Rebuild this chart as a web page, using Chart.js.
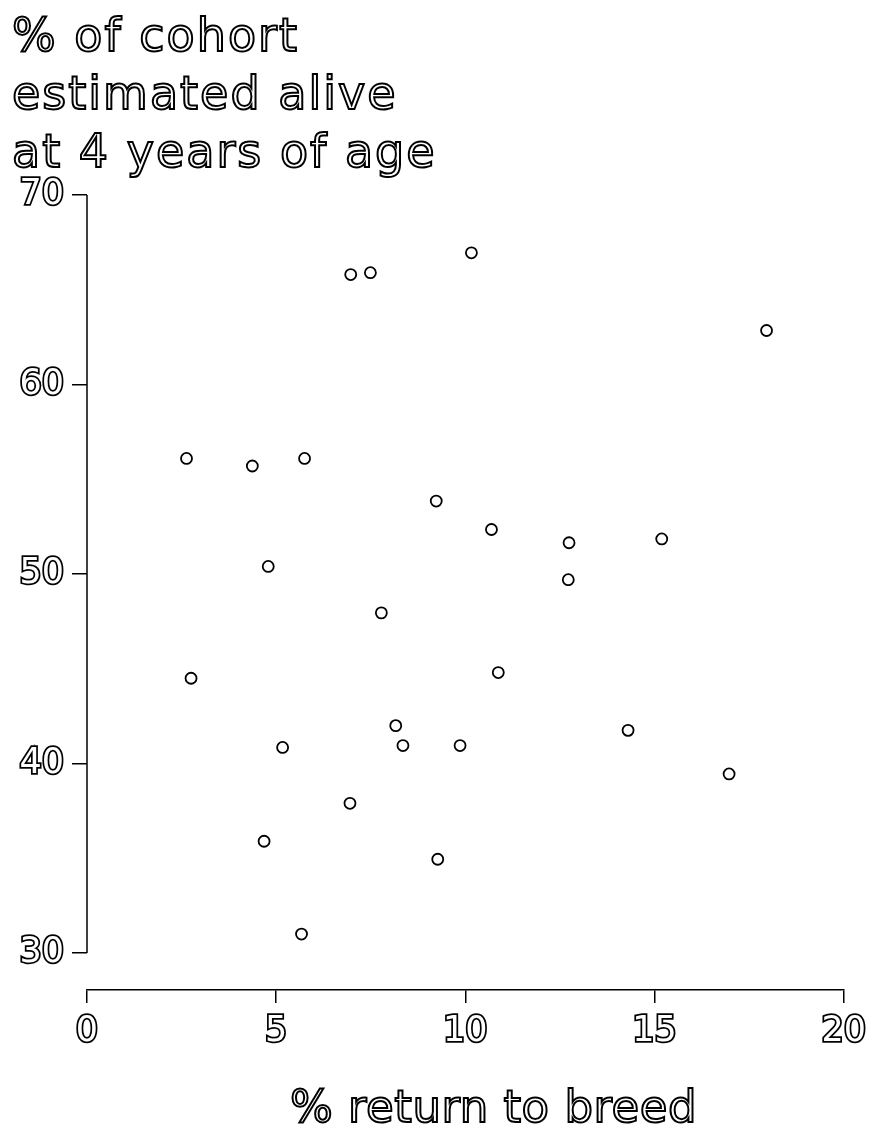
<!DOCTYPE html>
<html>
<head>
<meta charset="utf-8">
<script src="https://cdn.jsdelivr.net/npm/chart.js@4/dist/chart.umd.min.js"></script>
<style>
  html, body { margin: 0; padding: 0; background: #fff; }
  #wrap { position: relative; width: 874px; height: 1135px; }
  .hollow {
    position: absolute;
    font-family: "DejaVu Sans", sans-serif;
    color: #fff;
    -webkit-text-stroke: 2px #000;
    white-space: nowrap;
  }
  #ytitle { left: 12px; top: 6px; font-size: 46px; line-height: 58px; letter-spacing: 2px; }
  #xtitle { left: 290px; top: 1084px; font-size: 45px; line-height: 45px; letter-spacing: 0.5px; }
</style>
</head>
<body>
<div id="wrap">
  <canvas id="chart" width="874" height="1135"></canvas>
  <div id="ytitle" class="hollow">% of cohort<br>estimated alive<br>at 4 years of age</div>
  <div id="xtitle" class="hollow">% return to breed</div>
</div>
<script>
// % return to breed
const returnPct = [2.63, 2.75, 4.37, 4.79, 4.68, 5.17, 5.67, 5.75, 6.97, 7.49, 6.95, 7.78, 8.16,
                   8.35, 9.23, 9.27, 9.86, 10.16, 10.69, 10.87, 12.74, 12.72, 14.30, 15.19, 16.97, 17.96];
// % of cohort estimated alive at 4 years
const alivePct = [56.1, 44.5, 55.7, 50.4, 35.9, 40.85, 31.0, 56.1, 65.8, 65.9, 37.9, 47.95, 42.0,
                  40.95, 53.85, 34.95, 40.95, 66.95, 52.35, 44.8, 51.65, 49.7, 41.75, 51.85, 39.45, 62.85];
const xTicks = [0, 5, 10, 15, 20];
const yTicks = [30, 40, 50, 60, 70];

const points = returnPct.map((x, i) => ({ x: x, y: alivePct[i] }));

const tickFont = { family: 'DejaVu Sans', size: 35 };

// y axis line only runs from 30 to 70, x axis sits a bit below it
const yAxisLine = {
  id: 'yAxisLine',
  afterDraw(chart) {
    const ctx = chart.ctx;
    const y = chart.scales.y;
    const left = chart.chartArea.left;
    ctx.save();
    ctx.strokeStyle = '#000';
    ctx.lineWidth = 1.5;
    ctx.beginPath();
    ctx.moveTo(left, y.getPixelForValue(yTicks[yTicks.length - 1]));
    ctx.lineTo(left, y.getPixelForValue(yTicks[0]));
    ctx.stroke();
    ctx.restore();
  }
};

new Chart(document.getElementById('chart'), {
  type: 'scatter',
  data: {
    datasets: [{
      data: points,
      pointRadius: 5.5,
      pointBorderWidth: 1.8,
      pointBorderColor: '#000',
      pointBackgroundColor: '#fff'
    }]
  },
  options: {
    responsive: false,
    animation: false,
    devicePixelRatio: 1,
    layout: { padding: { top: 195, right: 29, left: 0, bottom: 0 } },
    plugins: { legend: { display: false }, tooltip: { enabled: false } },
    scales: {
      x: {
        type: 'linear',
        min: 0,
        max: 20,
        afterFit(scale) { scale.height = 145; },
        afterBuildTicks(scale) { scale.ticks = xTicks.map(v => ({ value: v })); },
        border: { display: true, color: '#000', width: 1.5 },
        grid: { drawOnChartArea: false, drawTicks: true, tickLength: 13, color: '#000', lineWidth: 1.5 },
        ticks: { font: tickFont, color: '#fff', textStrokeColor: '#000', textStrokeWidth: 3.5, padding: 8, maxRotation: 0 }
      },
      y: {
        type: 'linear',
        min: 28.05,
        max: 70,
        afterFit(scale) { scale.width = 87; },
        afterBuildTicks(scale) { scale.ticks = yTicks.map(v => ({ value: v })); },
        border: { display: false },
        grid: { drawOnChartArea: false, drawTicks: true, tickLength: 15, color: '#000', lineWidth: 1.5 },
        ticks: { font: tickFont, color: '#fff', textStrokeColor: '#000', textStrokeWidth: 3.5, padding: 8 }
      }
    }
  },
  plugins: [yAxisLine]
});
</script>
</body>
</html>
